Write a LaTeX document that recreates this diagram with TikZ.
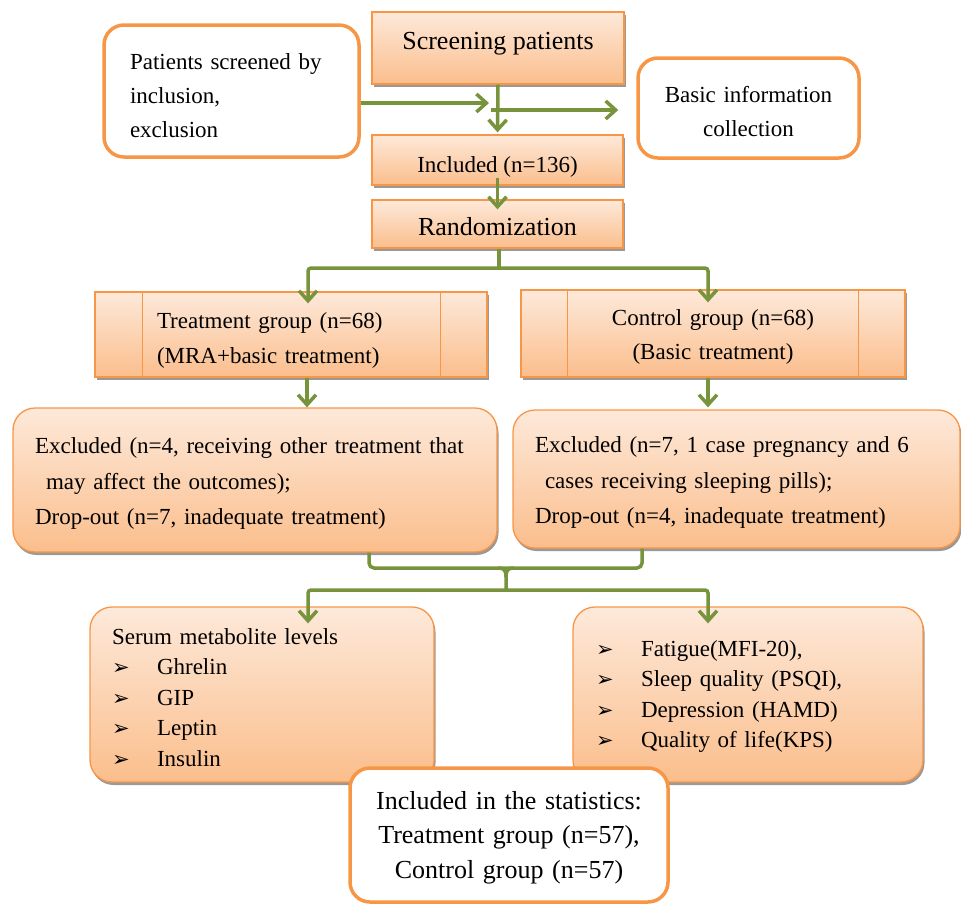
\documentclass[tikz,border=0pt]{standalone}
\usepackage{fontspec}
\setmainfont{Liberation Serif}
\newfontfamily\symf{DejaVu Sans}
\usetikzlibrary{arrows.meta,shadows}
\definecolor{orB}{HTML}{F79646}
\definecolor{gTop}{HTML}{FDE9DA}
\definecolor{gBot}{HTML}{FBBE8C}
\definecolor{grA}{HTML}{77933C}
\newcommand{\bul}{\makebox[45pt][l]{\symf\fontsize{21}{21}\selectfont ➢}}
\begin{document}
\begin{tikzpicture}[x=1pt,y=-1pt,
  gbox/.style={draw=orB, line width=1.3pt, top color=gTop, bottom color=gBot,
    drop shadow={shadow xshift=1.5pt,shadow yshift=-3pt,fill=black!40,opacity=1}, inner sep=0pt},
  rgbox/.style={gbox, rounded corners=22pt},
  wbox/.style={draw=orB, line width=3.5pt, fill=white, rounded corners=20pt, inner sep=0pt},
  gline/.style={draw=grA, line width=3.5pt},
  arr/.style={gline, -{Straight Barb[length=10pt,width=18pt]}},
  f23/.style={font=\fontsize{23}{#1}\selectfont},
  f26/.style={font=\fontsize{26}{#1}\selectfont},
]
\useasboundingbox (0,0) rectangle (961,903);
\clip (0,0) rectangle (961,903);

% boxes
\node[wbox, f23=34, text height=26pt, minimum height=132pt, text width=203pt, inner xsep=26pt, align=left] (pat) at (231.5,91) {Patients screened by\\inclusion,\\exclusion};
\node[gbox, f26=30, text depth=14pt, minimum width=252pt, minimum height=72pt] (scr) at (498,48) {Screening patients};
\node[wbox, f23=34, text height=24pt, minimum height=100pt, text width=201pt, inner xsep=10pt, align=center] (basic) at (748.5,108) {Basic information\\collection};
\node[gbox, f23=28, text height=30pt, minimum width=251pt, minimum height=50pt] (incl) at (497.5,160) {Included (n=136)};
\node[gbox, f26=30, text height=24pt, minimum width=251pt, minimum height=48pt] (rand) at (497.5,224) {Randomization};

\node[gbox, f23=35, text height=28pt, minimum height=85pt, text width=268pt, inner xsep=62pt, align=left] (treat) at (291,334.5) {Treatment group (n=68)\\(MRA+basic treatment)};
\draw[orB, line width=1.3pt] ([xshift=48pt]treat.north west) -- ([xshift=48pt]treat.south west)
  ([xshift=-47pt]treat.north east) -- ([xshift=-47pt]treat.south east);
\node[gbox, f23=34, text height=23pt, minimum height=87pt, text width=284pt, inner xsep=50pt, align=center] (ctrl) at (713,333.5) {Control group (n=68)\\(Basic treatment)};
\draw[orB, line width=1.3pt] ([xshift=47pt]ctrl.north west) -- ([xshift=47pt]ctrl.south west)
  ([xshift=-47pt]ctrl.north east) -- ([xshift=-47pt]ctrl.south east);

\node[rgbox, f23=35.5, text height=23pt, minimum height=144pt, text width=440pt, inner xsep=22pt, align=left] (exL) at (255,480) {Excluded (n=4, receiving other treatment that\\\hspace*{11pt}may affect the outcomes);\\Drop-out (n=7, inadequate treatment)};
\node[rgbox, f23=35.5, text height=23pt, minimum height=138pt, text width=403pt, inner xsep=22pt, align=left] (exR) at (736.5,479) {Excluded (n=7, 1 case pregnancy and 6\\\hspace*{10pt}cases receiving sleeping pills);\\Drop-out (n=4, inadequate treatment)};

\node[rgbox, f23=30.5, text height=22pt, minimum height=175pt, text width=300pt, inner xsep=22pt, align=left] (serum) at (262,694.5) {Serum metabolite levels\\\bul Ghrelin\\\bul GIP\\\bul Leptin\\\bul Insulin};
\node[rgbox, f23=30.5, text height=20pt, minimum height=175pt, text width=304pt, inner xsep=23pt, align=left] (outc) at (748,694.5) {\bul Fatigue(MFI-20),\\\bul Sleep quality (PSQI),\\\bul Depression (HAMD)\\\bul Quality of life(KPS)};
\node[wbox, f26=34.5, text height=23pt, minimum height=134pt, text width=298pt, inner xsep=10pt, align=center] (stat) at (509,835) {Included in the statistics:\\Treatment group (n=57),\\Control group (n=57)};

% connectors
\coordinate (j1) at (489,103);
\coordinate (j2) at (491,110);
\draw[arr] (pat.east |- j1) -- (j1);
\draw[arr, shorten >=18pt] (j2) -- (j2 -| basic.west);
\draw[arr] (scr.south) -- ([yshift=2pt]incl.north);
\draw[arr] ([yshift=8pt]incl.south) -- ([yshift=-10pt]rand.north);

\coordinate (s1) at (499,268);
\draw[gline] (rand.south -| s1) -- (s1);
\draw[arr, rounded corners=3pt] (s1) -| ([xshift=17pt,yshift=-12pt]treat.north);
\draw[arr, rounded corners=3pt] (s1) -| ([xshift=-5pt,yshift=-13pt]ctrl.north);

\draw[arr] ([xshift=16pt]treat.south) -- ([xshift=16pt]treat.south |- exL.north);
\draw[arr] ([xshift=-5pt]ctrl.south) -- ([xshift=-5pt,yshift=2pt]ctrl.south |- exR.north);

\coordinate (bm) at (506,568);
\coordinate (s2) at (506,590);
\draw[gline, rounded corners=5pt] ([xshift=114pt]exL.south) |- (bm) -| ([xshift=-94.5pt]exR.south);
\draw[gline] (498,568) .. controls (504,568) and (506,570) .. (506,577) -- (s2);
\draw[gline] (514,568) .. controls (508,568) and (506,570) .. (506,577);
\draw[arr, rounded corners=3pt] (s2) -| ([xshift=46pt,yshift=-17pt]serum.north);
\draw[arr, rounded corners=3pt] (s2) -| ([xshift=-40pt,yshift=-17pt]outc.north);
\end{tikzpicture}
\end{document}
